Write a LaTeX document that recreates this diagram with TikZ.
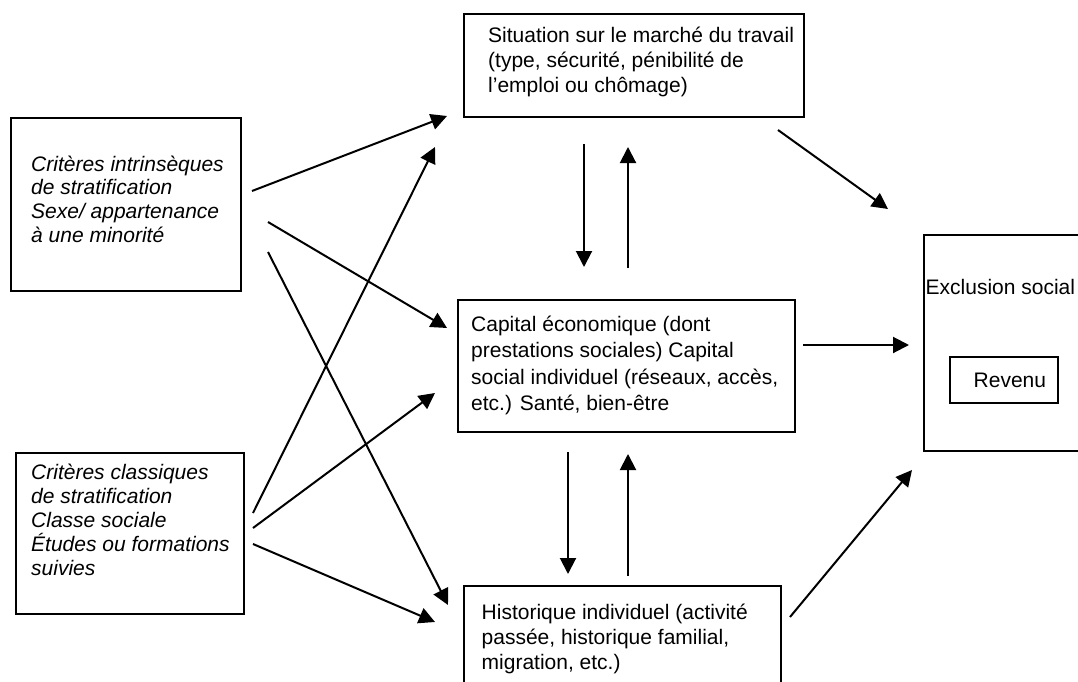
\documentclass[tikz,border=0pt]{standalone}
\usepackage{fontspec}
\setmainfont{Liberation Sans}
\usetikzlibrary{arrows.meta}
\begin{document}
\begin{tikzpicture}[x=1pt,y=-1pt,
  box/.style={draw, line width=1.8pt, inner sep=0pt, anchor=north west},
  txt/.style={anchor=base west, inner sep=0pt, font=\fontsize{21}{25}\selectfont},
  arr/.style={line width=2pt, -{Triangle[length=16pt,width=16pt]}}]
\clip (0,0) rectangle (1078,682);
\fill[white] (0,0) rectangle (1078,682);
% boxes
\node[box, minimum width=340pt, minimum height=103pt] (sit) at (463,13) {};
\node[box, minimum width=230pt, minimum height=173pt] (intr) at (10,117) {};
\node[box, minimum width=228pt, minimum height=161pt] (clas) at (15,452) {};
\node[box, minimum width=337pt, minimum height=132pt] (cap) at (457,299) {};
\node[box, minimum width=317pt, minimum height=115pt] (hist) at (463,585) {};
\node[box, minimum width=180pt, minimum height=216pt] (excl) at (923,234) {};
\node[box, minimum width=108pt, minimum height=46pt] (rev) at (949,356) {};
% texts
\node[txt] (sitT) at (488,42.5) {\parbox[t]{330pt}{\raggedright Situation sur le marché du travail\\(type, sécurité, pénibilité de\\l’emploi ou chômage)}};
\node[txt] (capT) at (471,331.5) {\parbox[t]{330pt}{\fontsize{21}{26.3}\selectfont\raggedright Capital économique (dont\\prestations sociales) Capital\\social individuel (réseaux, accès,\\etc.) Santé, bien-être}};
\node[txt] (histT) at (481.5,619.5) {\parbox[t]{330pt}{\raggedright Historique individuel (activité\\passée, historique familial,\\migration, etc.)}};
\node[txt] (intrT) at (31,171.5) {\parbox[t]{220pt}{\fontsize{21}{23.5}\selectfont\itshape\raggedright Critères intrinsèques\\de stratification\\Sexe/ appartenance\\à une minorité}};
\node[txt] (clasT) at (31,479.5) {\parbox[t]{220pt}{\fontsize{21}{24}\selectfont\itshape\raggedright Critères classiques\\de stratification\\Classe sociale\\Études ou formations\\suivies}};
\node[txt] (exclT) at (925.5,294.5) {Exclusion social};
\node[txt] (revT) at (973.5,387.5) {Revenu};
% connector end points
\coordinate (a1s) at (252,191); \coordinate (a1e) at (447,116);
\coordinate (a2s) at (268,222); \coordinate (a2e) at (447,328);
\coordinate (a3s) at (268,252); \coordinate (a3e) at (448,605);
\coordinate (a4s) at (253,513); \coordinate (a4e) at (435,147);
\coordinate (a5s) at (253,528); \coordinate (a5e) at (435,393);
\coordinate (a6s) at (253,544); \coordinate (a6e) at (435,622);
\coordinate (a7s) at (778,130); \coordinate (a7e) at (888,209);
\coordinate (a8s) at (803,345); \coordinate (a8e) at (909,345);
\coordinate (a9s) at (790,617); \coordinate (a9e) at (912,470);
\coordinate (v1s) at (584,144); \coordinate (v1e) at (584,267);
\coordinate (v2s) at (628,268); \coordinate (v2e) at (628,147);
\coordinate (v3s) at (568,452); \coordinate (v3e) at (568,574);
\coordinate (v4s) at (628,576); \coordinate (v4e) at (628,454);
% connectors
\foreach \a in {a1,a2,a3,a4,a5,a6,a7,a8,a9,v1,v2,v3,v4}
  \draw[arr] (\a s) -- (\a e);
\end{tikzpicture}
\end{document}
